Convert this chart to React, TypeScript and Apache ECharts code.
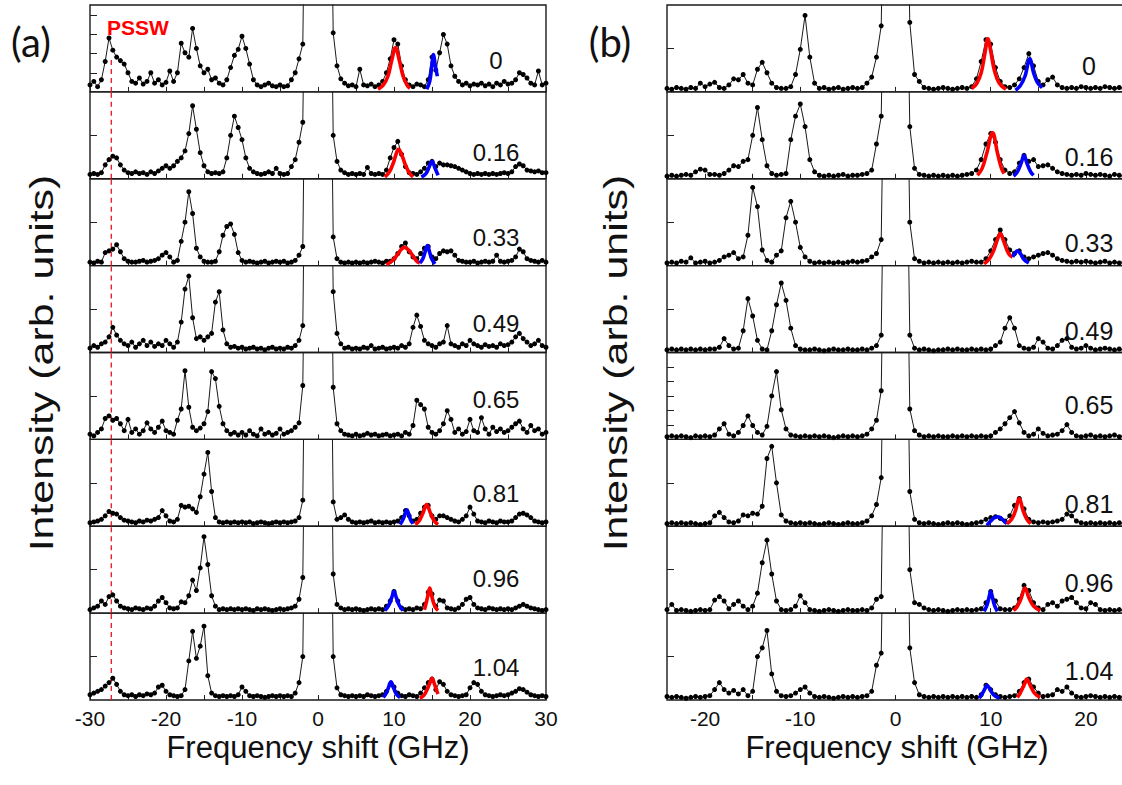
import React, { useEffect, useRef } from 'react';
import * as echarts from 'echarts';

const _ = null;
const FONT = '"Liberation Sans", Arial, Helvetica, sans-serif';

// ---------- panel (a): x from -30 to 30 GHz, sampled every 0.5 GHz ----------
const A_MIN = -30;
const A_MAX = 30;
const B_MIN = -24;
const B_MAX = 24;
const STEP = 0.5;

const labelsA = ['0', '0.16', '0.33', '0.49', '0.65', '0.81', '0.96', '1.04'];
const labelsB = ['0', '0.16', '0.33', '0.49', '0.65', '0.81', '0.96', '1.04'];
const tickLabelsA = [-30, -20, -10, 0, 10, 20, 30];
const tickMarksA = [-30, -25, -20, -15, -10, -5, 0, 5, 10, 15, 20, 25, 30];
const tickLabelsB = [-20, -10, 0, 10, 20];
const tickMarksB = [-20, -15, -10, -5, 0, 5, 10, 15, 20];
const yTicksA = [[22, 44, 66, 88], [50], [50], [50], [50], [50], [50], [50]];
const yTicksB = [[50], [50], [50], [50], [16.67, 33.33, 50, 66.67, 83.33], [50], [50], [50]];
const PSSW_X = -27.2;

const specA0 = [
  8, 12, 6, 14, 35, 62, 48, 40, 36, 32,
  22, 12, 10, 16, 9, 12, 22, 10, 14, 8,
  11, 24, 12, 22, 56, 45, 40, 73, 50, 30,
  22, 26, 14, 16, 10, 8, 14, 28, 42, 49,
  64, 50, 32, 14, 8, 6, 8, 10, 7, 6,
  8, 6, 7, 14, 22, 38, 55, 400, _, _,
  _, _, _, 400, 68, 30, 15, 10, 7, 8,
  6, 26, 8, 7, 9, 6, 8, 12, 22, 38,
  60, 55, 30, 14, 8, 6, 9, 8, 6, 14,
  40, 25, 45, 66, 55, 30, 18, 12, 8, 10,
  7, 9, 8, 10, 7, 9, 6, 10, 8, 12,
  9, 10, 14, 22, 20, 16, 10, 8, 24, 8,
  10,
];
const specA1 = [
  5, 6, 5, 7, 16, 22, 26, 24, 16, 10,
  7, 6, 8, 6, 7, 5, 8, 6, 9, 12,
  15, 12, 15, 20, 24, 32, 52, 84, 57, 30,
  15, 8, 6, 7, 6, 8, 24, 50, 72, 59,
  45, 24, 12, 8, 6, 5, 6, 8, 6, 12,
  6, 5, 6, 14, 22, 42, 65, 400, _, _,
  _, _, _, 400, 50, 20, 10, 7, 5, 6,
  5, 6, 5, 13, 6, 5, 6, 5, 10, 24,
  36, 43, 28, 14, 7, 6, 5, 8, 12, 18,
  20, 14, 18, 16, 16, 15, 14, 12, 10, 8,
  6, 5, 6, 5, 6, 5, 6, 5, 6, 7,
  6, 8, 14, 17, 15, 10, 9, 8, 9, 7,
  7,
];
const specA2 = [
  4, 3, 5, 4, 15, 17, 19, 24, 16, 8,
  5, 4, 4, 5, 6, 4, 5, 6, 8, 12,
  15, 10, 4, 6, 28, 50, 85, 60, 20, 10,
  5, 4, 4, 5, 16, 35, 45, 48, 36, 15,
  6, 4, 5, 4, 3, 4, 5, 3, 4, 5,
  4, 5, 3, 4, 6, 12, 22, 400, _, _,
  _, _, _, 400, 33, 8, 4, 3, 4, 3,
  4, 3, 4, 3, 4, 5, 4, 3, 5, 5,
  8, 14, 22, 26, 16, 10, 8, 14, 20, 22,
  10, 8, 14, 17, 16, 17, 12, 6, 5, 4,
  4, 5, 3, 4, 5, 4, 5, 12, 5, 4,
  5, 6, 10, 19, 16, 8, 6, 5, 4, 6,
  4,
];
const specA3 = [
  5, 8, 6, 10, 12, 18, 29, 20, 14, 10,
  8, 12, 6, 10, 14, 8, 12, 7, 10, 8,
  14, 10, 6, 12, 35, 73, 88, 40, 16, 18,
  14, 18, 22, 58, 70, 26, 10, 6, 7, 5,
  6, 4, 5, 6, 4, 5, 3, 5, 6, 4,
  5, 4, 6, 5, 8, 14, 31, 400, _, _,
  _, _, _, 400, 70, 22, 10, 5, 6, 4,
  5, 4, 6, 5, 8, 4, 5, 6, 4, 5,
  6, 5, 8, 6, 10, 29, 43, 30, 14, 10,
  8, 6, 10, 12, 31, 10, 8, 6, 10, 8,
  14, 10, 8, 6, 9, 7, 8, 6, 10, 8,
  9, 12, 18, 22, 16, 12, 8, 10, 14, 8,
  6,
];
const specA4 = [
  6, 4, 8, 12, 24, 27, 22, 24, 18, 10,
  23, 8, 12, 6, 10, 19, 12, 8, 14, 21,
  10, 8, 6, 22, 35, 79, 37, 14, 10, 13,
  18, 32, 78, 70, 38, 18, 10, 6, 8, 5,
  8, 5, 10, 6, 4, 12, 6, 8, 5, 7,
  12, 6, 8, 10, 14, 19, 62, 400, _, _,
  _, _, _, 400, 60, 18, 10, 6, 5, 4,
  6, 4, 5, 7, 5, 6, 4, 5, 6, 4,
  5, 6, 4, 8, 6, 16, 45, 40, 35, 14,
  8, 6, 10, 18, 33, 23, 8, 12, 6, 9,
  23, 10, 8, 25, 12, 6, 14, 9, 12, 8,
  10, 14, 18, 21, 12, 8, 16, 10, 12, 6,
  8,
];
const specA5 = [
  4, 5, 6, 8, 12, 17, 15, 14, 10, 7,
  6, 5, 4, 6, 5, 7, 6, 8, 10, 18,
  12, 6, 5, 8, 24, 22, 23, 20, 16, 34,
  60, 85, 40, 10, 5, 4, 5, 4, 5, 4,
  5, 4, 5, 3, 4, 5, 4, 3, 4, 5,
  4, 5, 4, 5, 6, 10, 30, 400, _, _,
  _, _, _, 400, 28, 8, 10, 13, 8, 5,
  4, 5, 4, 5, 6, 4, 5, 4, 5, 4,
  5, 6, 10, 18, 12, 6, 8, 15, 22, 24,
  12, 8, 12, 12, 10, 8, 6, 5, 8, 12,
  22, 14, 6, 5, 4, 6, 5, 4, 6, 5,
  5, 6, 10, 14, 15, 13, 10, 6, 5, 4,
  5,
];
const specA6 = [
  4, 6, 8, 14, 10, 19, 21, 14, 8, 6,
  5, 4, 6, 5, 4, 6, 5, 8, 14, 18,
  12, 6, 5, 6, 13, 12, 20, 38, 26, 52,
  88, 56, 20, 8, 4, 5, 4, 5, 4, 5,
  4, 5, 4, 3, 5, 4, 5, 4, 3, 4,
  5, 4, 5, 6, 8, 16, 41, 400, _, _,
  _, _, _, 400, 45, 10, 6, 4, 5, 4,
  5, 4, 3, 4, 5, 4, 5, 4, 8, 14,
  25, 14, 6, 4, 5, 4, 6, 5, 10, 24,
  22, 8, 15, 14, 6, 5, 4, 6, 10, 16,
  18, 10, 6, 5, 4, 6, 5, 4, 5, 4,
  5, 4, 6, 8, 10, 8, 6, 5, 4, 3,
  4,
];
const specA7 = [
  6, 8, 10, 12, 16, 20, 25, 18, 10, 6,
  5, 6, 4, 6, 5, 7, 6, 8, 15, 17,
  10, 6, 5, 4, 5, 12, 45, 79, 48, 62,
  85, 28, 8, 5, 4, 5, 4, 5, 4, 6,
  15, 10, 5, 4, 5, 4, 3, 4, 5, 4,
  5, 4, 5, 4, 8, 20, 50, 400, _, _,
  _, _, _, 400, 50, 14, 6, 5, 4, 5,
  4, 5, 4, 6, 5, 4, 5, 6, 10, 18,
  15, 8, 5, 4, 6, 5, 4, 8, 14, 20,
  24, 12, 21, 18, 10, 6, 5, 4, 5, 6,
  14, 20, 18, 10, 6, 5, 4, 5, 6, 5,
  6, 8, 10, 13, 12, 9, 6, 5, 4, 5,
  4,
];

// ---------- panel (b): x from -24 to 24 GHz, sampled every 0.5 GHz ----------
const specB0 = [
  4, 3, 5, 4, 3, 5, 4, 10, 6, 9,
  11, 5, 4, 8, 15, 14, 20, 10, 8, 26,
  34, 22, 10, 5, 4, 4, 6, 20, 49, 88,
  40, 10, 4, 5, 3, 4, 5, 3, 4, 5,
  4, 5, 10, 17, 40, 76, 400, _, _, _,
  400, 80, 20, 12, 5, 4, 3, 4, 5, 4,
  3, 4, 5, 4, 6, 15, 35, 60, 55, 28,
  12, 6, 5, 8, 15, 28, 44, 30, 12, 8,
  14, 17, 8, 5, 4, 5, 4, 6, 5, 4,
  5, 4, 6, 5, 4, 5, 4,
];
const specB1 = [
  3, 4, 3, 4, 5, 4, 8, 11, 10, 5,
  5, 4, 6, 10, 15, 14, 20, 22, 50, 82,
  45, 15, 6, 4, 5, 6, 45, 72, 86, 60,
  22, 8, 4, 3, 4, 3, 4, 5, 3, 4,
  4, 5, 6, 10, 40, 72, 400, _, _, _,
  400, 60, 12, 5, 4, 3, 4, 3, 4, 3,
  4, 3, 4, 5, 6, 10, 22, 40, 52, 42,
  22, 10, 6, 8, 18, 27, 20, 22, 14, 15,
  16, 12, 8, 6, 5, 4, 5, 4, 6, 5,
  4, 5, 4, 3, 5, 4, 3,
];
const specB2 = [
  3, 4, 3, 5, 4, 9, 3, 4, 5, 3,
  4, 6, 10, 12, 15, 8, 10, 35, 90, 68,
  18, 6, 4, 12, 17, 55, 74, 50, 21, 10,
  5, 3, 4, 3, 4, 3, 4, 3, 4, 5,
  4, 5, 6, 10, 14, 30, 400, _, _, _,
  400, 50, 8, 5, 3, 4, 3, 4, 3, 4,
  3, 4, 3, 4, 5, 4, 4, 8, 17, 30,
  41, 30, 18, 14, 17, 10, 8, 10, 12, 14,
  15, 12, 8, 6, 5, 4, 5, 4, 5, 4,
  3, 4, 5, 3, 4, 3, 4,
];
const specB3 = [
  3, 4, 3, 4, 3, 4, 3, 4, 3, 4,
  4, 6, 16, 8, 4, 5, 25, 62, 42, 14,
  4, 3, 25, 55, 80, 60, 28, 8, 4, 3,
  3, 4, 3, 2, 3, 4, 3, 3, 4, 3,
  3, 4, 3, 5, 8, 20, 400, _, _, _,
  400, 20, 5, 3, 4, 3, 2, 3, 3, 4,
  3, 4, 3, 3, 4, 3, 4, 3, 4, 8,
  12, 28, 40, 28, 8, 5, 4, 6, 16, 12,
  5, 4, 8, 14, 16, 6, 4, 5, 8, 5,
  3, 4, 5, 4, 3, 4, 3,
];
const specB4 = [
  3, 4, 3, 4, 3, 2, 4, 3, 4, 3,
  5, 12, 18, 6, 4, 8, 16, 27, 16, 8,
  5, 15, 50, 78, 34, 12, 5, 4, 3, 4,
  3, 4, 3, 4, 3, 2, 3, 4, 3, 4,
  3, 4, 6, 12, 22, 56, 400, _, _, _,
  400, 35, 10, 5, 3, 4, 3, 4, 3, 3,
  4, 3, 4, 3, 4, 3, 4, 3, 4, 8,
  12, 18, 25, 32, 19, 8, 4, 6, 12, 7,
  4, 5, 6, 10, 17, 8, 4, 3, 4, 5,
  3, 4, 3, 4, 5, 3, 4,
];
const specB5 = [
  3, 4, 3, 4, 3, 4, 3, 2, 3, 4,
  12, 16, 10, 5, 4, 6, 13, 12, 15, 14,
  23, 78, 92, 50, 13, 6, 4, 3, 4, 3,
  4, 3, 2, 3, 4, 3, 2, 3, 4, 3,
  3, 4, 6, 12, 25, 56, 400, _, _, _,
  400, 40, 8, 4, 3, 4, 3, 2, 3, 4,
  3, 4, 3, 2, 3, 4, 5, 8, 10, 11,
  9, 6, 12, 24, 32, 20, 8, 5, 4, 5,
  4, 5, 6, 8, 14, 12, 6, 4, 3, 4,
  3, 4, 3, 4, 3, 4, 3,
];
const specB6 = [
  4, 10, 3, 4, 3, 2, 3, 4, 3, 4,
  15, 19, 14, 5, 10, 14, 8, 4, 8, 23,
  58, 84, 45, 14, 4, 3, 4, 8, 20, 12,
  4, 3, 2, 3, 4, 3, 2, 3, 4, 3,
  3, 4, 3, 6, 16, 19, 400, _, _, _,
  400, 50, 12, 10, 6, 4, 3, 4, 3, 2,
  3, 4, 3, 4, 3, 4, 5, 12, 25, 14,
  5, 4, 4, 6, 16, 32, 26, 12, 6, 4,
  10, 12, 8, 14, 16, 18, 12, 6, 5, 12,
  10, 4, 3, 4, 3, 4, 3,
];
const specB7 = [
  4, 3, 4, 3, 2, 3, 4, 3, 4, 5,
  12, 20, 12, 8, 11, 7, 12, 5, 10, 50,
  60, 80, 30, 10, 5, 4, 5, 8, 12, 15,
  8, 4, 3, 4, 3, 2, 3, 4, 3, 4,
  3, 4, 5, 10, 40, 54, 400, _, _, _,
  400, 60, 20, 6, 4, 3, 4, 3, 4, 3,
  4, 3, 4, 3, 4, 3, 6, 17, 12, 6,
  4, 3, 4, 5, 10, 20, 24, 15, 8, 4,
  5, 6, 12, 10, 15, 8, 4, 3, 4, 5,
  4, 3, 4, 3, 4, 3, 4,
];

// ---------- fitted peaks: [GHz, intensity] ----------
const fitA0Red = [[7.9, 3], [8.6, 8], [9.2, 18], [9.7, 36], [10.2, 51], [10.7, 36], [11.2, 18], [11.7, 8], [12.1, 4]];
const fitA0Blue = [[14.3, 3], [14.7, 12], [15.0, 32], [15.2, 43], [15.4, 32], [15.7, 18]];
const fitA1Red = [[8.8, 2], [9.4, 8], [9.9, 18], [10.3, 29], [10.6, 34], [11.0, 28], [11.5, 16], [12.0, 7], [12.5, 2]];
const fitA1Blue = [[13.6, 2], [14.2, 6], [14.6, 13], [15.0, 20], [15.4, 12], [15.8, 4]];
const fitA2Red = [[9.0, 1], [9.7, 5], [10.4, 12], [11.0, 19], [11.4, 21], [11.9, 18], [12.5, 11], [13.0, 5], [13.4, 3]];
const fitA2Blue = [[13.4, 3], [13.8, 8], [14.1, 16], [14.4, 23], [14.7, 15], [15.0, 7], [15.4, 2]];
const fitA5Blue = [[10.8, 2], [11.2, 8], [11.5, 15], [11.7, 19], [11.9, 15], [12.2, 7], [12.5, 3]];
const fitA5Red = [[12.8, 2], [13.3, 6], [13.8, 15], [14.3, 25], [14.8, 15], [15.3, 6], [15.8, 2]];
const fitA6Blue = [[8.8, 3], [9.3, 9], [9.7, 18], [10.0, 25], [10.3, 18], [10.7, 9], [11.2, 3]];
const fitA6Red = [[14.0, 4], [14.3, 14], [14.5, 22], [14.7, 29], [14.9, 22], [15.2, 12], [15.5, 6], [15.8, 3]];
const fitA7Blue = [[8.6, 3], [9.0, 8], [9.3, 15], [9.6, 21], [9.9, 15], [10.3, 7], [10.8, 3]];
const fitA7Red = [[13.4, 2], [13.9, 5], [14.3, 11], [14.7, 19], [15.0, 25], [15.3, 19], [15.6, 11], [15.8, 7]];

const fitB0Red = [[8.0, 4], [8.5, 9], [9.0, 22], [9.4, 45], [9.7, 61], [10.0, 47], [10.4, 24], [10.9, 10], [11.6, 3]];
const fitB0Blue = [[12.6, 2], [13.1, 7], [13.6, 18], [14.1, 38], [14.5, 22], [14.9, 11], [15.4, 5]];
const fitB1Red = [[8.6, 4], [9.1, 12], [9.6, 30], [10.2, 53], [10.7, 30], [11.1, 13], [11.4, 6]];
const fitB1Blue = [[12.4, 3], [12.8, 8], [13.2, 18], [13.5, 27], [13.8, 18], [14.2, 8], [14.5, 4]];
const fitB2Red = [[9.3, 2], [9.8, 7], [10.3, 17], [10.7, 30], [11.0, 37], [11.3, 30], [11.7, 18], [12.0, 12], [12.3, 10]];
const fitB2Blue = [[12.3, 10], [12.6, 15], [12.8, 17], [13.1, 14], [13.5, 7], [14.0, 3]];
const fitB5Blue = [[9.6, 1], [10.0, 6], [10.4, 10], [10.7, 11], [11.0, 10], [11.4, 6], [11.7, 3]];
const fitB5Red = [[11.7, 3], [12.2, 8], [12.6, 18], [13.0, 32], [13.4, 18], [13.8, 8], [14.2, 3]];
const fitB6Blue = [[9.3, 2], [9.6, 9], [9.8, 17], [10.0, 25], [10.2, 17], [10.4, 9], [10.7, 2]];
const fitB6Red = [[12.4, 3], [12.8, 8], [13.2, 17], [13.6, 29], [14.0, 18], [14.5, 8], [15.2, 3]];
const fitB7Blue = [[8.8, 2], [9.1, 7], [9.4, 13], [9.6, 17], [9.9, 13], [10.3, 6], [10.9, 2]];
const fitB7Red = [[12.8, 3], [13.1, 8], [13.5, 17], [13.8, 24], [14.1, 18], [14.6, 8], [15.2, 3]];

const specsA = [specA0, specA1, specA2, specA3, specA4, specA5, specA6, specA7];
const specsB = [specB0, specB1, specB2, specB3, specB4, specB5, specB6, specB7];
const fitsA: any[][] = [
  [['red', fitA0Red], ['blue', fitA0Blue]],
  [['red', fitA1Red], ['blue', fitA1Blue]],
  [['red', fitA2Red], ['blue', fitA2Blue]],
  [],
  [],
  [['blue', fitA5Blue], ['red', fitA5Red]],
  [['blue', fitA6Blue], ['red', fitA6Red]],
  [['blue', fitA7Blue], ['red', fitA7Red]],
];
const fitsB: any[][] = [
  [['red', fitB0Red], ['blue', fitB0Blue]],
  [['red', fitB1Red], ['blue', fitB1Blue]],
  [['red', fitB2Red], ['blue', fitB2Blue]],
  [],
  [],
  [['blue', fitB5Blue], ['red', fitB5Red]],
  [['blue', fitB6Blue], ['red', fitB6Red]],
  [['blue', fitB7Blue], ['red', fitB7Red]],
];

const labelYA = [60, 152, 237, 323, 399, 493, 578, 667];
const labelYB = [66, 157, 243, 331, 405, 504, 583, 671];

const TOP = 5;
const SUB_H = 86.875;
const FIT_COLORS: Record<string, string> = { red: '#ff0000', blue: '#0000ff' };

function buildOption() {
  const grid: any[] = [];
  const xAxis: any[] = [];
  const yAxis: any[] = [];
  const series: any[] = [];
  const panels = [
    { left: 90, width: 456, min: A_MIN, max: A_MAX, specs: specsA, fits: fitsA, labels: tickLabelsA, ticks: tickMarksA, yTicks: yTicksA, pssw: true },
    { left: 667, width: 457, min: B_MIN, max: B_MAX, specs: specsB, fits: fitsB, labels: tickLabelsB, ticks: tickMarksB, yTicks: yTicksB, pssw: false },
  ];
  panels.forEach((p) => {
    const xs = p.specs[0].map((_v, i) => p.min + i * STEP);
    p.specs.forEach((vals, si) => {
      const gi = grid.length;
      grid.push({
        left: p.left, width: p.width, top: TOP + si * SUB_H, height: SUB_H,
        show: true, borderColor: '#1a1a1a', borderWidth: 1.4, backgroundColor: 'transparent',
      });
      xAxis.push({
        gridIndex: gi, type: 'value', min: p.min, max: p.max, position: 'bottom',
        axisLine: { show: false, onZero: false }, splitLine: { show: false },
        axisTick: { show: true, inside: true, length: 5, customValues: p.ticks, lineStyle: { color: '#222', width: 1 } },
        axisLabel: { show: si === 7, customValues: p.labels, margin: 8, color: '#111', fontSize: 21, fontFamily: FONT },
      });
      yAxis.push({
        gridIndex: gi, type: 'value', min: 0, max: 100, position: 'left',
        axisLine: { show: false, onZero: false }, splitLine: { show: false }, axisLabel: { show: false },
        axisTick: { show: true, inside: true, length: 7, customValues: p.yTicks[si], lineStyle: { color: '#222', width: 1 } },
      });
      if (p.pssw) {
        series.push({
          type: 'line', xAxisIndex: gi, yAxisIndex: gi, silent: true, symbol: 'none', z: 2,
          data: [[PSSW_X, 0], [PSSW_X, si === 0 ? 40 : 100]],
          lineStyle: { color: '#e8141c', width: 1.3, type: [5, 4] },
        });
      }
      series.push({
        type: 'line', xAxisIndex: gi, yAxisIndex: gi, silent: true, z: 3,
        data: xs.map((x, i) => [x, vals[i]]),
        symbol: 'circle', symbolSize: 5, showSymbol: true, showAllSymbol: true,
        connectNulls: false, clip: true,
        itemStyle: { color: '#000' },
        lineStyle: { color: '#1a1a1a', width: 1 },
      });
      p.fits[si].forEach(([c, pts]: any) => {
        series.push({
          type: 'line', xAxisIndex: gi, yAxisIndex: gi, silent: true, z: 4,
          data: pts, smooth: 0.4, symbol: 'none', clip: true,
          lineStyle: { color: FIT_COLORS[c], width: 3.6 },
        });
      });
    });
  });

  const graphic: any[] = [
    { type: 'text', x: 31, y: 42, style: { text: '(a)', fontSize: 40, fontFamily: 'Lato, "Open Sans", sans-serif', fill: '#111', align: 'center', verticalAlign: 'middle' } },
    { type: 'text', x: 610, y: 42, style: { text: '(b)', fontSize: 40, fontFamily: 'Lato, "Open Sans", sans-serif', fill: '#111', align: 'center', verticalAlign: 'middle' } },
    { type: 'text', x: 107, y: 27, z: 10, style: { text: 'PSSW', fontSize: 21, fontWeight: 'bold', fontFamily: FONT, fill: '#ff0000', align: 'left', verticalAlign: 'middle' } },
    { type: 'text', x: 41, y: 363, rotation: Math.PI / 2, scaleX: 1.3, style: { text: 'Intensity (arb. units)', fontSize: 33, fontFamily: FONT, fill: '#111', align: 'center', verticalAlign: 'middle' } },
    { type: 'text', x: 615, y: 363, rotation: Math.PI / 2, scaleX: 1.3, style: { text: 'Intensity (arb. units)', fontSize: 33, fontFamily: FONT, fill: '#111', align: 'center', verticalAlign: 'middle' } },
    { type: 'text', x: 318, y: 747, style: { text: 'Frequency shift (GHz)', fontSize: 31, fontFamily: FONT, fill: '#111', align: 'center', verticalAlign: 'middle' } },
    { type: 'text', x: 897, y: 747, style: { text: 'Frequency shift (GHz)', fontSize: 31, fontFamily: FONT, fill: '#111', align: 'center', verticalAlign: 'middle' } },
  ];
  labelsA.forEach((t, i) => {
    graphic.push({ type: 'text', x: 496, y: labelYA[i], z: 10, style: { text: t, fontSize: 24, fontFamily: FONT, fill: '#111', align: 'center', verticalAlign: 'middle' } });
  });
  labelsB.forEach((t, i) => {
    graphic.push({ type: 'text', x: 1089, y: labelYB[i], z: 10, style: { text: t, fontSize: 25, fontFamily: FONT, fill: '#111', align: 'center', verticalAlign: 'middle' } });
  });

  return { animation: false, backgroundColor: '#fff', grid, xAxis, yAxis, series, graphic };
}

export default function App() {
  const ref = useRef<HTMLDivElement>(null);
  useEffect(() => {
    if (!ref.current) return;
    const chart = echarts.init(ref.current, undefined, { renderer: 'svg' });
    chart.setOption(buildOption() as any);
    return () => chart.dispose();
  }, []);
  return (
    <div style={{ position: 'fixed', left: 0, top: 0, width: 1122, height: 785, overflow: 'hidden', background: '#fff' }}>
      <div ref={ref} style={{ width: 1140, height: 785 }} />
    </div>
  );
}
